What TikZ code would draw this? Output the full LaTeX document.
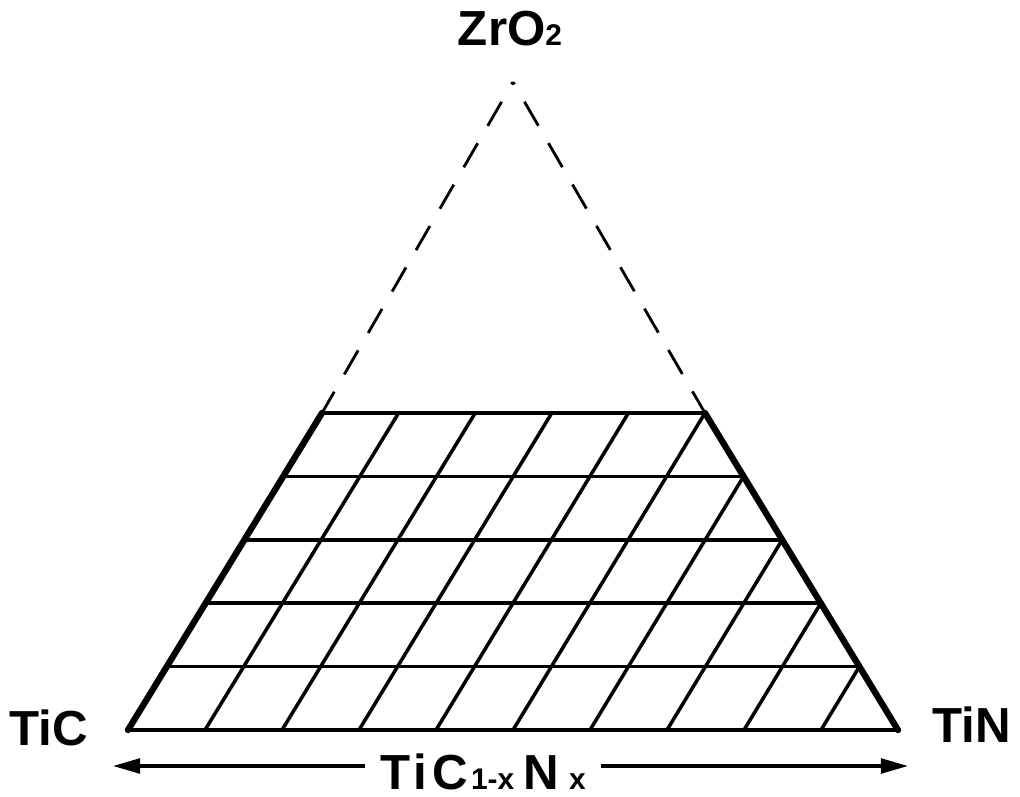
\documentclass[tikz,border=0pt]{standalone}
\usepackage{fontspec}
\setmainfont{Liberation Sans}
\usetikzlibrary{arrows.meta,calc}
\newcommand{\smallidx}[1]{{\fontsize{8.5}{9}\selectfont #1}}
\tikzset{
  phase/.style={font=\fontsize{14}{16}\selectfont\bfseries,inner sep=4pt,anchor=base},
  rim/.style={line width=1.8pt,line cap=round},
  rimflat/.style={line width=1.3pt},
  gridline/.style={line width=1pt},
  tieline/.style={line width=0.8pt,dash pattern=on 7.9pt off 5.7pt,dash phase=7.1pt},
  comparrow/.style={line width=0.9pt,-{Triangle[length=7.7pt,width=4.2pt]}}
}

\begin{document}
\begin{tikzpicture}[x=0.01cm,y=-0.01cm]
  \useasboundingbox (0,0) rectangle (1020,796);
  % corners of the diagram
  \coordinate (tic) at (128,730);
  \coordinate (tin) at (898,730);
  \coordinate (topr) at (705,413);
  \coordinate (topl) at (322,413);
  \coordinate (zro) at (513,82);
  % grid of compositions
  \foreach \k in {1,...,4}
    \draw[gridline] ($(tic)!\k/5!(topl)$) -- ($(tin)!\k/5!(topr)$);
  \foreach \i in {1,...,5}
    \draw[gridline] ($(tic)!\i/10!(tin)$) -- ($(topl)!\i/5!(topr)$);
  \foreach \i in {6,...,9}
    \draw[gridline] ($(tic)!\i/10!(tin)$) -- ($(tin)!{(10-\i)/5}!(topr)$);
  % outline
  \draw[rimflat] (tic) -- (tin);
  \draw[rimflat] (topl) -- (topr);
  \draw[rim] (tic) -- (topl);
  \draw[rim] (tin) -- (topr);
  \draw[tieline] (zro) -- (topl);
  \draw[tieline] (zro) -- (topr);
  % labels
  \node[phase] (ticlbl) at (49,745) {TiC};
  \node[phase] (tinlbl) at (972,742) {TiN};
  \node[phase] (zrolbl) at (510,45) {ZrO\smallidx{2}};
  \node[phase] (mix) at (483,789)
    {T\hspace{0.8pt}i\hspace{1.5pt}C\hspace{1pt}\smallidx{1-x}\hspace{2.5pt}N\hspace{3pt}\smallidx{x}};
  \coordinate (arrl) at (113,766);
  \coordinate (arrr) at (908,766);
  \draw[comparrow] (mix.west |- arrl) -- (arrl);
  \draw[comparrow] (mix.east |- arrr) -- (arrr);
\end{tikzpicture}
\end{document}
